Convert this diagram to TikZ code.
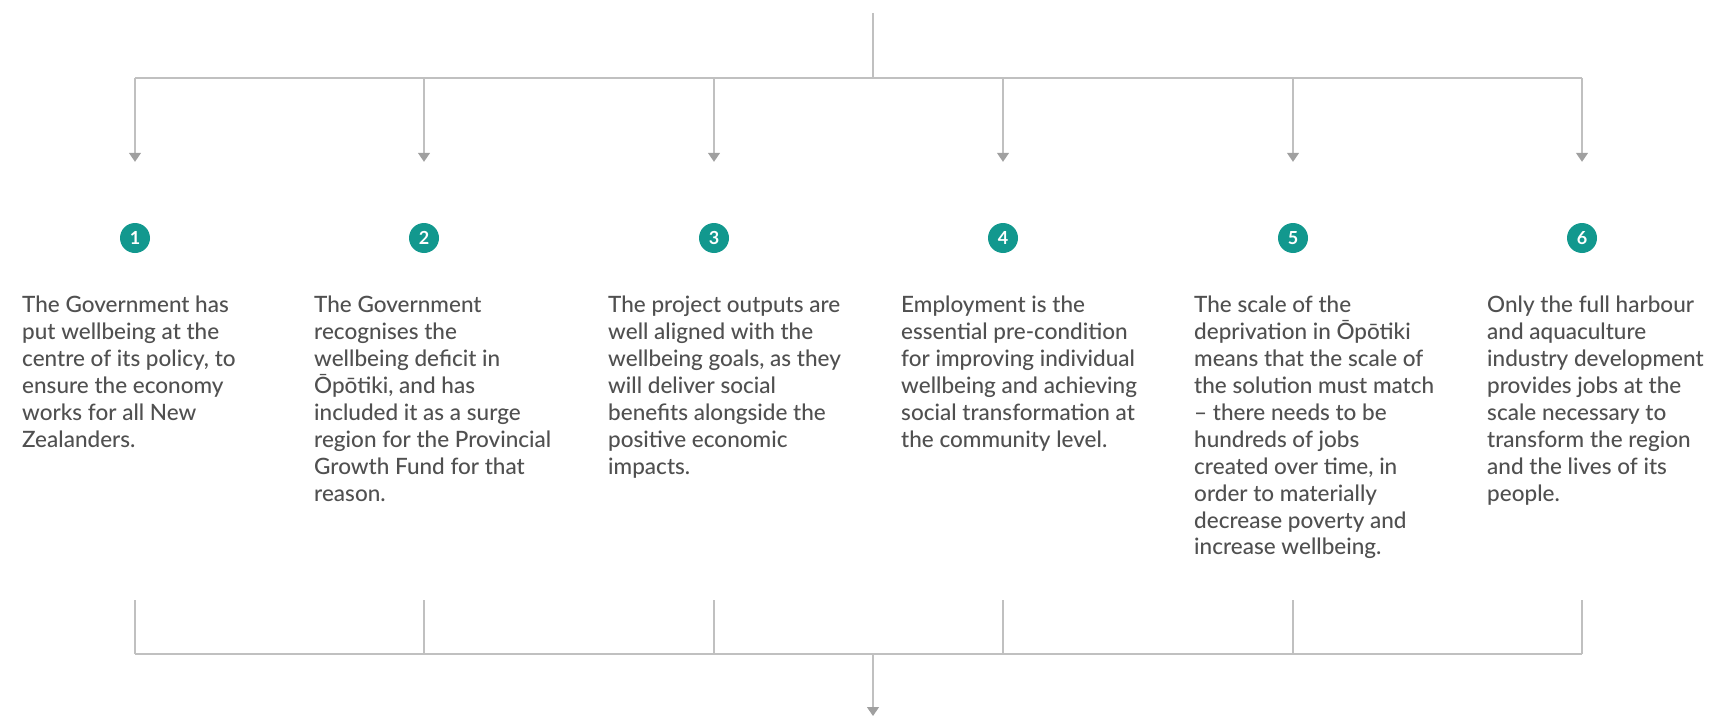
\documentclass[tikz,border=0pt]{standalone}
\usepackage{fontspec}
\IfFontExistsTF{Lato Medium}{\setmainfont{Lato Medium}[BoldFont=Lato Bold]}{\setmainfont{Lato}}
\usetikzlibrary{arrows.meta}
\definecolor{linegrey}{RGB}{192,192,192}
\definecolor{headgrey}{RGB}{160,160,160}
\definecolor{badgeteal}{RGB}{18,152,142}
\definecolor{bodytext}{RGB}{80,80,80}
\begin{document}
\begin{tikzpicture}[x=1pt,y=-1pt,
  link/.style={draw=linegrey,line width=1.3pt},
  flow/.style={link,-{Triangle[width=12pt,length=9pt,color=headgrey,fill=headgrey]}},
  badge/.style={circle,fill=badgeteal,minimum size=30pt,inner sep=0pt,text=white,
    font=\bfseries\fontsize{18}{18}\selectfont},
  blurb/.style={anchor=north west,inner sep=0pt,align=left,text=bodytext,
    font=\fontsize{22.5}{26.9}\selectfont},
]
\useasboundingbox (0,0) rectangle (1710,717);

% numbered badges
\node[badge] (c1) at (135,238)  {1};
\node[badge] (c2) at (424,238)  {2};
\node[badge] (c3) at (714,238)  {3};
\node[badge] (c4) at (1003,238) {4};
\node[badge] (c5) at (1293,238) {5};
\node[badge] (c6) at (1582,238) {6};

% statements
\node[blurb] (t1) at (22,296)   {The Government has\\put wellbeing at the\\centre of its policy, to\\ensure the economy\\works for all New\\Zealanders.};
\node[blurb] (t2) at (314,296)  {The Government\\recognises the\\wellbeing deficit in\\Ōpōtiki, and has\\included it as a surge\\region for the Provincial\\Growth Fund for that\\reason.};
\node[blurb] (t3) at (608,296)  {The project outputs are\\well aligned with the\\wellbeing goals, as they\\will deliver social\\benefits alongside the\\positive economic\\impacts.};
\node[blurb] (t4) at (901,296)  {Employment is the\\essential pre-condition\\for improving individual\\wellbeing and achieving\\social transformation at\\the community level.};
\node[blurb] (t5) at (1194,296) {The scale of the\\deprivation in Ōpōtiki\\means that the scale of\\the solution must match\\– there needs to be\\hundreds of jobs\\created over time, in\\order to materially\\decrease poverty and\\increase wellbeing.};
\node[blurb] (t6) at (1487,296) {Only the full harbour\\and aquaculture\\industry development\\provides jobs at the\\scale necessary to\\transform the region\\and the lives of its\\people.};

% top distribution bracket
\coordinate (src) at (873,13);
\coordinate (hub) at (873,78);
\draw[link] (src) -- (hub);
\draw[link] (c1 |- hub) -- (c6 |- hub);
\foreach \i in {1,...,6}
  \draw[flow] (c\i |- hub) -- ([yshift=61pt]c\i.north);

% bottom collecting bracket
\coordinate (foot) at (873,600);
\coordinate (bar)  at (873,654);
\coordinate (out)  at (873,716);
\foreach \i in {1,...,6}
  \draw[link] (c\i |- foot) -- (c\i |- bar);
\draw[link] (c1 |- bar) -- (c6 |- bar);
\draw[flow] (bar) -- (out);
\end{tikzpicture}
\end{document}
